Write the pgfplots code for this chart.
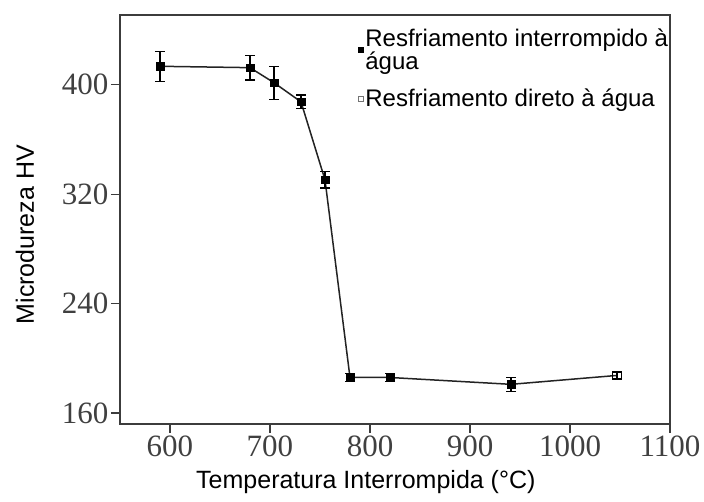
\documentclass[border=0pt]{standalone}
\usepackage{fontspec}
\setmainfont{Liberation Serif}
\newfontfamily\arial{Liberation Sans}
\usepackage{pgfplots}
\pgfplotsset{compat=1.18}
\definecolor{axcol}{RGB}{60,60,60}
\definecolor{lncol}{RGB}{35,35,35}
\begin{document}
\begin{tikzpicture}
\path[use as bounding box] (-120pt,-78pt) rectangle (584pt,424pt);
\begin{axis}[
  scale only axis,
  width=550pt, height=409pt,
  xmin=550, xmax=1100, ymin=152, ymax=451,
  xtick={600,700,800,900,1000,1100},
  ytick={160,240,320,400},
  xtick pos=left, ytick pos=left,
  tick align=outside,
  major tick length=9pt,
  every tick/.style={axcol, line width=1.2pt},
  axis line style={axcol, line width=1.3pt},
  /pgf/number format/assume math mode=true,
  /pgf/number format/set thousands separator={},
  tick label style={font=\fontsize{31}{33}\selectfont, text=black!75},
  xticklabel style={yshift=1pt},
  yticklabel style={xshift=1pt},
  xlabel={\arial\fontsize{25}{28}\selectfont Temperatura Interrompida (°C)},
  ylabel={\arial\fontsize{25}{28}\selectfont Microdureza HV},
  every axis x label/.style={at={(axis description cs:0.447,-0.142)}, anchor=center},
  every axis y label/.style={at={(axis description cs:-0.173,0.463)}, rotate=90, anchor=center},
  legend style={at={(0.433,0.972)}, anchor=north west, draw=none, fill=none,
    font=\arial\fontsize{24}{23.5}\selectfont, cells={align=left},
    inner sep=0pt, row sep=14pt},
  legend image code/.code={\draw[#1] plot coordinates {(0.06cm,0cm)};},
  legend cell align=left,
]
\addplot[forget plot, lncol, line width=1.5pt, mark=square*, mark size=3.8pt,
  mark options={fill=black, draw=black, line width=0.5pt},
  error bars/.cd, y dir=both, y explicit,
  error bar style={black, line width=1.2pt},
  error mark options={rotate=90, mark size=5pt, line width=1.2pt, black}]
  table[x=x, y=y, y error=e] {
x y e
590 413.5 11
680 412.5 9
704 401.5 12
731 387.5 5
755 330.5 6
780 186 3
820 186 3
941 181 5
};
\addplot[forget plot, lncol, line width=1.5pt] table {
941 181
1047 187.5
};
\addplot[forget plot, only marks, mark=square, mark size=4.2pt, mark options={black, line width=1.2pt, fill=white},
  error bars/.cd, y dir=both, y explicit,
  error bar style={black, line width=1.2pt},
  error mark options={rotate=90, mark size=5pt, line width=1.2pt, black}]
  table[x=x, y=y, y error=e] {
x y e
1047 187.5 2
};
\addlegendimage{only marks, mark=square*, mark size=2.3pt, mark options={fill=black, draw=black}}
\addlegendentry{Resfriamento interrompido à\\água}
\addlegendimage{only marks, mark=square, mark size=2.5pt, mark options={black!55, line width=0.6pt}}
\addlegendentry{Resfriamento direto à água}
\end{axis}
\end{tikzpicture}
\end{document}
